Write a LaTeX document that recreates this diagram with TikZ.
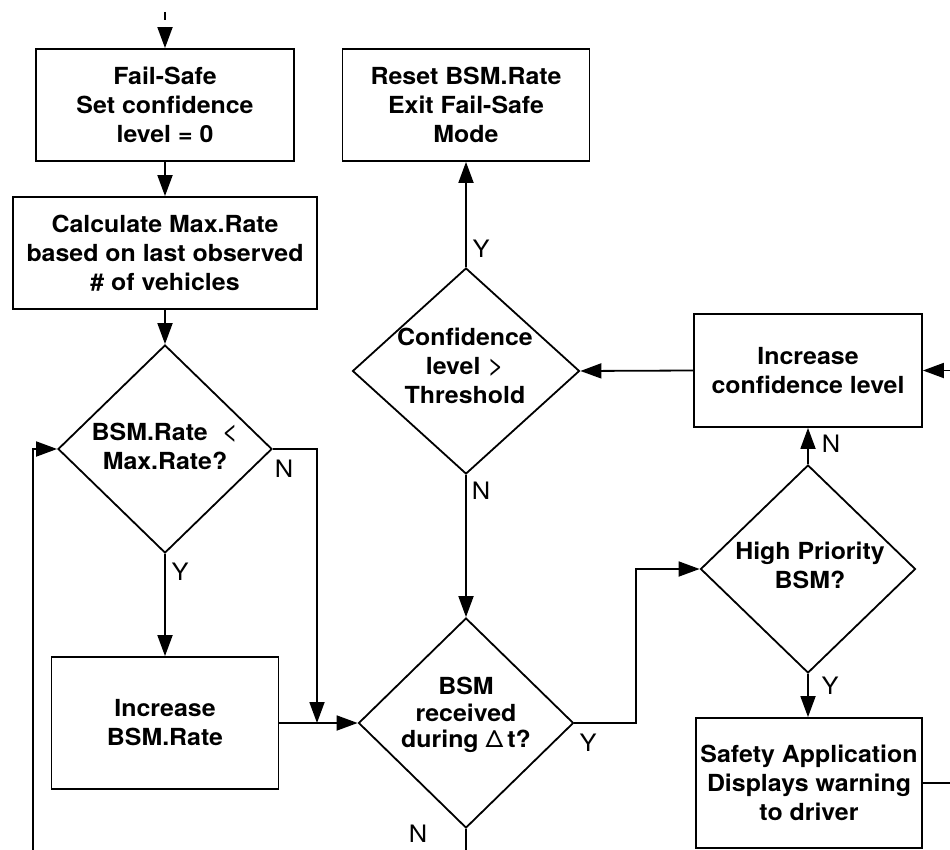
\documentclass[tikz,border=0pt]{standalone}
\usepackage{fontspec}
\setmainfont{TeX Gyre Heros}[FakeStretch=1.06]
\usetikzlibrary{shapes.geometric,arrows.meta}

\newcommand{\relsym}[1]{{\mdseries\fontsize{27}{29}\selectfont #1}}

\begin{document}
\begin{tikzpicture}[x=1pt,y=-1pt,
  line width=1.8pt,
  txt/.style={font=\fontsize{23.5}{29}\selectfont\bfseries, align=center, inner sep=0pt},
  stepbox/.style={draw, rectangle, inner sep=0pt, txt},
  decision/.style={draw, diamond, inner sep=0pt},
  arr/.style={-{Triangle[length=21pt,width=15pt]}},
  yn/.style={font=\fontsize{24}{28}\selectfont\mdseries, inner sep=0pt},
]
\useasboundingbox (0,0) rectangle (950,850);

% process boxes
\node[stepbox, minimum width=258pt, minimum height=112pt] (fs) at (165,105)
  {Fail-Safe\\Set confidence\\level = 0};
\node[stepbox, minimum width=304pt, minimum height=112pt] (calc) at (165,253)
  {Calculate Max.Rate\\based on last observed\\\# of vehicles};
\node[stepbox, minimum width=227pt, minimum height=132pt] (incr) at (165,723)
  {Increase\\BSM.Rate};
\node[stepbox, minimum width=247pt, minimum height=112pt] (reset) at (466,105)
  {Reset BSM.Rate\\Exit Fail-Safe\\Mode};
\node[stepbox, minimum width=228pt, minimum height=113pt] (conf) at (808,370.5)
  {Increase\\confidence level};
\node[stepbox, minimum width=226pt, minimum height=130pt] (safe) at (809,783)
  {Safety Application\\Displays warning\\to driver};

% decisions
\node[decision, minimum width=214pt, minimum height=208pt] (rate) at (165,449) {};
\node[txt] (rate-t) at (165,446) {BSM.Rate\ \ \relsym{<}\\Max.Rate?};

\node[decision, minimum width=227pt, minimum height=206pt] (thr) at (466,371) {};
\node[txt] (thr-t) at (465,366) {Confidence\\level \relsym{>}\\Threshold};

\node[decision, minimum width=215pt, minimum height=210pt] (recv) at (466,723) {};
\node[txt, font=\fontsize{23.5}{26.5}\selectfont\bfseries] (recv-t) at (466,715)
  {BSM\\received\\during {\mdseries Δ}\,t?};

\node[decision, minimum width=215pt, minimum height=208pt] (prio) at (808,569) {};
\node[txt] (prio-t) at (810,565) {High Priority\\BSM?};

% branch labels
\node[yn] (l1) at (180,572) {Y};
\node[yn] (l2) at (284,469) {N};
\node[yn] (l3) at (481,249) {Y};
\node[yn] (l4) at (481,491) {N};
\node[yn] (l5) at (588,743) {Y};
\node[yn] (l6) at (418,834) {N};
\node[yn] (l7) at (831,444) {N};
\node[yn] (l8) at (830,686) {Y};

% free ends of connectors
\coordinate (in1) at (165,12);
\coordinate (in2) at (165,20);
\coordinate (in3) at (165,27);
\coordinate (nbend) at (317,449);
\coordinate (loopbot) at (33,856);
\coordinate (recvbot) at (466,856);
\coordinate (ybend) at (636,723);
\coordinate (redge) at (953,783);

% connectors
\draw (in1) -- (in2);
\draw[arr] (in3) -- (fs.north);
\draw[arr] (fs.south) -- (fs.south |- calc.north);
\draw[arr] (calc.south) -- (rate.north);
\draw[arr] (rate.south) -- (incr.north);
\draw[arr] (rate.east) -- (nbend) -- (nbend |- incr.east);
\draw[arr] (incr.east) -- (recv.west);
\draw[arr] (loopbot) -- (loopbot |- rate.west) -- (rate.west);
\draw (recv.south) -- (recvbot);
\draw[arr] (recv.east) -- (ybend) -- (ybend |- prio.west) -- (prio.west);
\draw[arr] (prio.south) -- (prio.south |- safe.north);
\draw[arr] (prio.north) -- (conf.south);
\draw[arr] (safe.east) -- (redge) -- (redge |- conf.east) -- (conf.east);
\draw[arr] (conf.west) -- (thr.east);
\draw[arr] (thr.south) -- (recv.north);
\draw[arr] (thr.north) -- (thr.north |- reset.south);
\end{tikzpicture}
\end{document}
